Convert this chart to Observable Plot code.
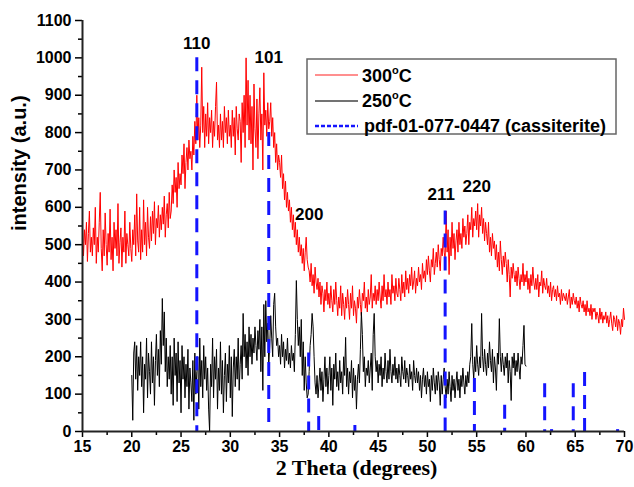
<!DOCTYPE html>
<html>
<head>
<meta charset="utf-8">
<script src="https://cdn.jsdelivr.net/npm/d3@7"></script>
<script src="https://cdn.jsdelivr.net/npm/@observablehq/plot@0.6"></script>
<style>
  html, body { margin: 0; padding: 0; background: #fff; }
</style>
</head>
<body>
<div id="chart"></div>
<script>
// ---- Data ----
// 300 °C pattern, sampled every 0.1° from 15.0° to 70.0°
const red300Start = 15, red300Step = 0.1;
const red300 = [
550,470,540,500,560,455,530,590,480,520,
470,545,500,600,450,520,480,560,640,490,
430,540,470,585,500,445,530,480,595,460,
520,430,560,490,540,470,610,450,505,545,
440,520,480,590,450,530,500,470,560,490,
455,540,500,580,470,636,510,480,600,460,
540,480,620,500,560,470,600,520,490,575,
510,590,530,615,500,570,545,605,520,580,
540,600,555,630,520,580,610,545,640,570,
590,660,610,700,640,680,600,720,650,690,
660,740,690,770,650,720,760,700,780,730,
750,700,790,740,830,770,900,780,840,760,
820,975,800,870,760,850,790,880,770,840,
800,860,760,830,790,870,935,780,820,760,
850,780,830,760,870,800,840,770,860,790,
820,760,860,790,840,740,870,810,780,850,
830,720,880,800,900,760,1000,820,940,780,
900,770,870,700,930,810,760,890,730,850,
920,780,850,700,960,820,860,790,880,810,
830,880,790,840,760,800,720,770,700,740,
720,680,740,650,690,620,670,600,640,590,
620,560,600,540,580,520,560,500,540,480,
520,470,500,450,490,430,480,520,460,440,
430,400,450,390,420,370,440,400,380,410,
360,400,340,390,370,320,380,350,400,340,
370,330,390,350,320,380,340,400,350,310,
360,330,390,310,370,340,300,360,330,380,
340,300,370,330,390,310,350,330,290,360,
330,380,340,310,370,350,400,330,360,320,
380,340,360,420,330,370,350,390,340,380,
350,400,360,330,390,350,420,360,380,340,
400,360,380,340,420,370,390,350,410,370,
360,410,380,350,420,370,400,360,430,380,
410,370,420,390,440,380,400,430,370,410,
390,440,400,420,380,450,410,430,400,460,
420,470,430,400,460,440,490,420,450,480,
440,500,460,430,490,470,520,480,460,590,
480,540,420,520,470,560,490,530,460,510,
540,480,560,500,530,490,570,520,550,500,
530,580,500,560,540,600,520,570,550,590,
540,610,520,580,550,600,530,570,510,560,
530,500,560,480,520,470,530,490,510,460,
500,440,480,430,510,460,420,470,440,480,
450,400,460,420,360,440,410,450,420,400,
430,390,440,410,380,420,400,450,390,420,
400,430,380,410,370,420,390,440,400,380,
410,380,420,360,400,390,430,370,410,390,
380,410,370,390,360,400,350,380,390,360,
380,350,390,360,370,340,380,350,370,360,
350,370,340,360,380,330,360,340,370,350,
340,360,330,350,320,360,340,330,350,320,
340,310,350,320,330,310,340,300,330,320,
330,300,320,310,290,330,300,320,290,310,
300,320,290,310,280,300,320,290,270,310,
300,280,310,270,300,290,260,300,280,330,
300
];

// 250 °C pattern, sampled every 0.1° from 20.0° to 60.0°
const black250Start = 20, black250Step = 0.1;
const black250 = [
150,30,210,240,140,230,110,200,150,240,
120,200,50,180,140,250,90,210,160,100,
240,130,200,70,190,260,150,220,120,270,
180,356,230,320,160,250,120,200,140,230,
100,200,70,250,150,210,80,240,130,190,
50,230,140,200,90,180,120,220,60,170,
130,80,190,30,210,100,160,200,60,250,
120,190,90,230,140,200,110,170,60,0,
180,120,250,90,200,140,220,60,170,110,
240,100,190,50,150,210,80,180,130,230,
90,200,40,170,220,120,200,140,250,110,
180,230,140,316,200,260,170,240,150,280,
200,260,180,250,210,280,230,190,270,220,
300,160,280,110,340,200,350,240,290,180,
230,310,250,200,340,370,280,230,250,200,
230,180,260,200,240,170,220,190,250,180,
210,170,230,190,210,160,260,404,300,230,
280,200,300,150,240,110,200,130,90,100,
160,230,260,316,280,200,130,100,150,90,
130,170,110,160,80,140,200,120,170,100,
150,200,110,170,70,180,140,210,120,160,
110,190,130,160,100,200,150,252,120,170,
100,160,130,190,90,170,110,150,60,140,
180,130,220,319,260,160,200,120,170,150,
190,130,170,210,110,260,316,200,160,190,
130,180,150,200,120,170,140,210,160,130,
190,140,220,160,130,180,150,200,140,170,
130,180,150,120,200,160,140,190,130,170,
150,120,180,140,160,110,190,150,130,170,
130,160,110,150,90,140,170,120,150,100,
160,120,140,80,150,110,170,130,100,150,
110,160,130,70,150,100,140,170,120,90,
140,100,160,120,80,150,110,140,90,130,
160,110,140,90,150,120,170,130,100,150,
120,160,130,180,200,289,180,140,200,160,
230,180,150,200,170,316,200,160,220,180,
150,210,170,240,190,160,220,130,200,170,
110,210,180,302,200,160,210,180,150,200,
170,210,130,190,160,83,200,170,210,150,
190,160,210,170,140,200,180,230,284,180,
175
];

// pdf-01-077-0447 (cassiterite) reference lines
const pdfAngles      = [26.6, 33.9, 37.95, 38.97, 42.64, 51.8, 54.77, 57.84, 61.9, 62.6, 64.8, 65.95, 69.3];
const pdfIntensities = [1000, 800,  210,   40,    16,    590,  142,   70,    128,  5,    128,  158,   5];

// Miller index labels
const hklLabels = ["110", "101", "200", "211", "220"];
const hklAngles = [26.6, 33.9, 38.0, 51.4, 55.0];
const hklHeights = [1038, 1000, 581, 634, 656];

// Axis ticks
const xTicks = [15, 20, 25, 30, 35, 40, 45, 50, 55, 60, 65, 70];
const xMinor = [17.5, 22.5, 27.5, 32.5, 37.5, 42.5, 47.5, 52.5, 57.5, 62.5, 67.5];
const yTicks = [0, 100, 200, 300, 400, 500, 600, 700, 800, 900, 1000, 1100];
const yMinor = [50, 150, 250, 350, 450, 550, 650, 750, 850, 950, 1050];

// Legend entries
const legendLabels = ["300", "250", "pdf-01-077-0447 (cassiterite)"];

// ---- Build tables ----
const redData = red300.map((v, i) => ({angle: red300Start + i * red300Step, intensity: v}));
const blackData = black250.map((v, i) => ({angle: black250Start + i * black250Step, intensity: v}));
const pdfData = pdfAngles.map((a, i) => ({angle: a, intensity: pdfIntensities[i]}));
const hklData = hklLabels.map((t, i) => ({label: t, angle: hklAngles[i], intensity: hklHeights[i]}));

const sans = "'Liberation Sans', Arial, Helvetica, sans-serif";
const serif = "'Liberation Serif', 'Times New Roman', serif";
const fmt = d3.format("d");

const chart = Plot.plot({
  width: 634,
  height: 487,
  marginLeft: 82,
  marginRight: 10,
  marginTop: 20,
  marginBottom: 56,
  style: {fontFamily: sans, fontSize: "16px", fontWeight: "bold", background: "#fff", color: "#000", overflow: "visible"},
  x: {domain: [15, 70]},
  y: {domain: [0, 1100]},
  marks: [
    Plot.axisX(xTicks, {tickSize: 6, tickPadding: 3, label: null, tickFormat: fmt, strokeWidth: 1.5, fontSize: 16, fontWeight: "bold"}),
    Plot.axisX(xMinor, {tickSize: 4, text: null, label: null, strokeWidth: 1.5}),
    Plot.axisY(yTicks, {tickSize: 7, tickPadding: 4, label: null, tickFormat: fmt, strokeWidth: 1.5, fontSize: 16, fontWeight: "bold"}),
    Plot.axisY(yMinor, {tickSize: 4, text: null, label: null, strokeWidth: 1.5}),
    Plot.line(redData, {x: "angle", y: "intensity", stroke: "#ff0000", strokeWidth: 1}),
    Plot.line(blackData, {x: "angle", y: "intensity", stroke: "#000", strokeWidth: 1}),
    Plot.ruleX(pdfData, {x: "angle", y1: "intensity", y2: 0, stroke: "#1414ff", strokeWidth: 3, strokeDasharray: "14,9"}),
    Plot.ruleX([15], {stroke: "#222", strokeWidth: 2}),
    Plot.ruleY([0], {stroke: "#222", strokeWidth: 2}),
    Plot.text(hklData, {x: "angle", y: "intensity", text: "label", fontSize: 17, fontWeight: "bold", fill: "#000"}),
    Plot.text(["intensity (a.u.)"], {frameAnchor: "left", rotate: -90, dx: -63, dy: 5, fontSize: 20, fontWeight: "bold", fill: "#000"}),
    Plot.text(["2 Theta (degrees)"], {frameAnchor: "bottom", dx: 3, dy: 43, fontSize: 22, fontWeight: "bold", fontFamily: serif, fill: "#000"})
  ]
});

document.getElementById("chart").appendChild(chart);

// ---- Legend (inside plot, top-right) ----
const svg = d3.select(chart);
const lg = svg.append("g")
  .attr("font-family", sans).attr("font-weight", "bold").attr("text-anchor", "start");
lg.append("rect")
  .attr("x", 307).attr("y", 59).attr("width", 309).attr("height", 75)
  .attr("fill", "#fff").attr("stroke", "#666").attr("stroke-width", 1.5);

const rows = [
  {y: 75, stroke: "#ff2020", dash: null, width: 1.2, tx: 362, base: 82},
  {y: 101, stroke: "#444", dash: null, width: 1.5, tx: 362, base: 107},
  {y: 126, stroke: "#1414ff", dash: "4,2", width: 2.5, tx: 364, base: 132}
];
rows.forEach((r, i) => {
  const ln = lg.append("line")
    .attr("x1", 315).attr("x2", 358).attr("y1", r.y).attr("y2", r.y)
    .attr("stroke", r.stroke).attr("stroke-width", r.width);
  if (r.dash) ln.attr("stroke-dasharray", r.dash);
  const t = lg.append("text")
    .attr("x", r.tx).attr("y", r.base)
    .attr("font-size", 18).attr("fill", "#000").attr("text-anchor", "start");
  if (i < 2) {
    t.append("tspan").text(legendLabels[i]);
    t.append("tspan").attr("font-size", 11).attr("dy", -8).text("o");
    t.append("tspan").attr("font-size", 18).attr("dy", 8).text("C");
  } else {
    t.text(legendLabels[i]);
  }
});
</script>
</body>
</html>
